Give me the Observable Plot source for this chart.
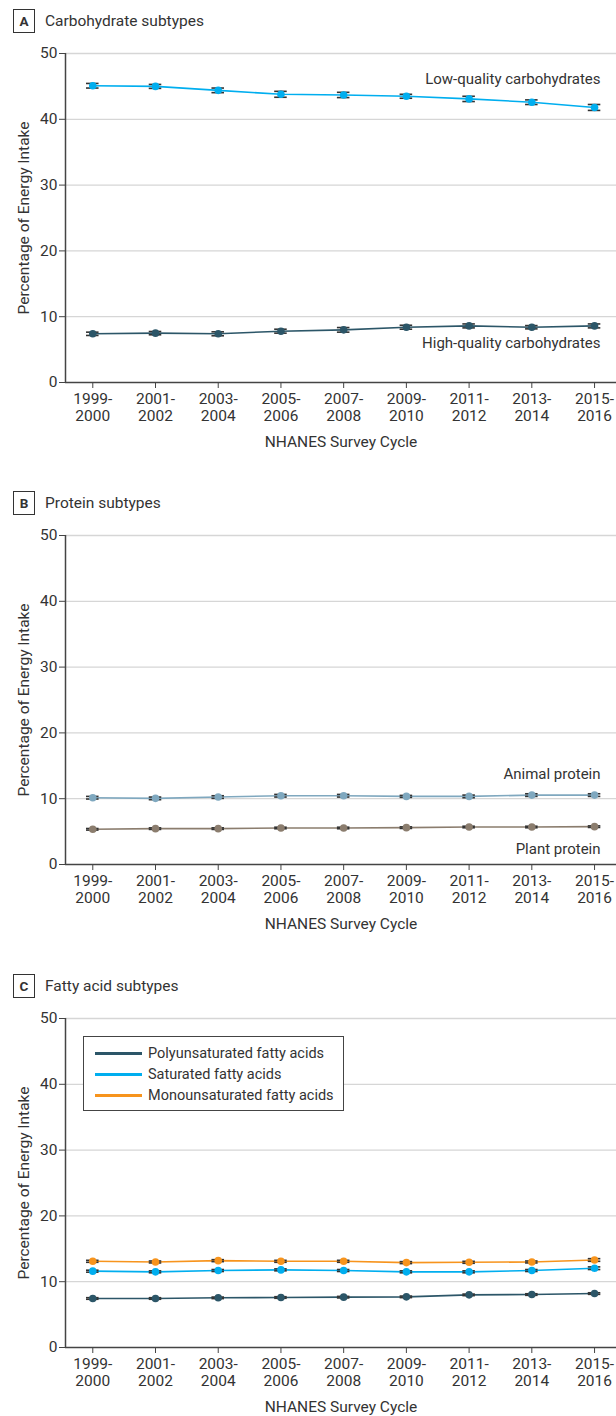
<!DOCTYPE html>
<html><head><meta charset="utf-8">
<script src="https://cdn.jsdelivr.net/npm/d3@7"></script>
<script src="https://cdn.jsdelivr.net/npm/@observablehq/plot@0.6"></script>
<style>
body{margin:0;background:#fff;font-family:Roboto,"Noto Sans",sans-serif;color:#333;}
.panel{position:absolute;left:0;width:616px;height:460px;}
.title{position:absolute;left:13px;top:9px;height:24px;display:flex;align-items:center;font-size:15.5px;color:#333;}
.badge{box-sizing:border-box;width:22px;height:24px;border:1.5px solid #333;display:flex;align-items:center;justify-content:center;font-weight:bold;font-size:13.5px;margin-right:10px;}
.chart{position:absolute;left:0;top:40px;}
.legend{position:absolute;box-sizing:border-box;border:1px solid #444;background:#fff;padding:6px 0 0 11px;font-size:14.5px;color:#333;}
.legend .row{display:flex;align-items:center;height:21px;}
.legend .sw{width:47px;height:2.5px;margin-right:6px;}
</style></head>
<body>
<div id="root"></div>
<script>
const cycles = ["1999-2000","2001-2002","2003-2004","2005-2006","2007-2008","2009-2010","2011-2012","2013-2014","2015-2016"];
const yTicks = [0, 10, 20, 30, 40, 50];

// Panel A: carbohydrate subtypes (% energy)
const lowQualityCarb    = [45.1, 45.0, 44.4, 43.8, 43.7, 43.5, 43.1, 42.6, 41.8];
const lowQualityCarbCI  = [0.35, 0.3, 0.35, 0.45, 0.4, 0.3, 0.4, 0.35, 0.45];
const highQualityCarb   = [7.4, 7.5, 7.4, 7.8, 8.0, 8.4, 8.6, 8.4, 8.6];
const highQualityCarbCI = [0.25, 0.25, 0.3, 0.3, 0.35, 0.3, 0.3, 0.25, 0.3];

// Panel B: protein subtypes
const animalProtein   = [10.15, 10.05, 10.25, 10.45, 10.45, 10.35, 10.35, 10.55, 10.55];
const animalProteinCI = [0.2, 0.2, 0.2, 0.2, 0.2, 0.15, 0.2, 0.2, 0.2];
const plantProtein    = [5.35, 5.45, 5.45, 5.55, 5.55, 5.6, 5.7, 5.7, 5.75];
const plantProteinCI  = [0.12, 0.12, 0.12, 0.12, 0.12, 0.12, 0.12, 0.12, 0.12];

// Panel C: fatty acid subtypes
const polyFA   = [7.45, 7.45, 7.55, 7.6, 7.65, 7.7, 8.0, 8.05, 8.2];
const polyFACI = [0.12, 0.12, 0.12, 0.12, 0.12, 0.12, 0.12, 0.12, 0.12];
const satFA    = [11.6, 11.5, 11.7, 11.8, 11.7, 11.5, 11.5, 11.7, 12.05];
const satFACI  = [0.15, 0.15, 0.15, 0.15, 0.15, 0.15, 0.15, 0.15, 0.2];
const monoFA   = [13.1, 13.0, 13.2, 13.1, 13.1, 12.9, 12.95, 13.0, 13.3];
const monoFACI = [0.15, 0.15, 0.15, 0.15, 0.15, 0.15, 0.15, 0.15, 0.2];

const colors = {
  low: "#00aeef", high: "#2c5668", animal: "#7fa8bf", plant: "#8b7d6e",
  poly: "#2c5668", sat: "#00aeef", mono: "#f7941d"
};

function rows(values, ci, key) {
  return values.map((v, i) => ({i, v, lo: v - ci[i], hi: v + ci[i], key}));
}

const panels = [
  {letter: "A", title: "Carbohydrate subtypes", top: 0,
   series: [rows(lowQualityCarb, lowQualityCarbCI, "low"), rows(highQualityCarb, highQualityCarbCI, "high")],
   labels: [{text: "Low-quality carbohydrates", y: 46.1}, {text: "High-quality carbohydrates", y: 5.9}]},
  {letter: "B", title: "Protein subtypes", top: 482,
   series: [rows(animalProtein, animalProteinCI, "animal"), rows(plantProtein, plantProteinCI, "plant")],
   labels: [{text: "Animal protein", y: 13.7}, {text: "Plant protein", y: 2.4}]},
  {letter: "C", title: "Fatty acid subtypes", top: 965,
   series: [rows(polyFA, polyFACI, "poly"), rows(satFA, satFACI, "sat"), rows(monoFA, monoFACI, "mono")],
   labels: [],
   legend: [["Polyunsaturated fatty acids", "poly"], ["Saturated fatty acids", "sat"], ["Monounsaturated fatty acids", "mono"]]}
];

const xDomain = [-0.435, 8.35];
const root = document.getElementById("root");

for (const p of panels) {
  const div = document.createElement("div");
  div.className = "panel";
  div.style.top = p.top + "px";
  div.innerHTML = `<div class="title"><div class="badge">${p.letter}</div><span>${p.title}</span></div>`;
  const marks = [
    Plot.gridY(yTicks.filter(d => d > 0), {stroke: "#d6d6d6", strokeOpacity: 1, strokeWidth: 1.3}),
    Plot.axisY(yTicks, {tickSize: 6, tickPadding: 2, fontSize: 15.5, stroke: "#444", fill: "#333",
      label: "Percentage of Energy Intake", labelAnchor: "center", labelOffset: 48, labelArrow: "none"}),
    Plot.axisX(d3.range(9), {tickSize: 6, tickPadding: 3, fontSize: 15.5, stroke: "#444", fill: "#333",
      tickFormat: i => cycles[i].replace("-", "-\n"), lineHeight: 1.12,
      label: "NHANES Survey Cycle", labelAnchor: "center", labelOffset: 64, labelArrow: "none"}),
    Plot.ruleY([0], {stroke: "#444", strokeWidth: 1.5}),
    Plot.ruleX([xDomain[0]], {y1: 0, y2: 50, stroke: "#444", strokeWidth: 1.5})
  ];
  for (const s of p.series) {
    const c = colors[s[0].key];
    marks.push(Plot.line(s, {x: "i", y: "v", stroke: c, strokeWidth: 1.6}));
    marks.push(Plot.ruleX(s, {x: "i", y1: "lo", y2: "hi", stroke: "#333", strokeWidth: 1.3}));
    marks.push(Plot.ruleY(s, {y: "hi", x1: d => d.i - 0.1, x2: d => d.i + 0.1, stroke: "#333", strokeWidth: 1.6}));
    marks.push(Plot.ruleY(s, {y: "lo", x1: d => d.i - 0.1, x2: d => d.i + 0.1, stroke: "#333", strokeWidth: 1.6}));
    marks.push(Plot.dot(s, {x: "i", y: "v", fill: c, r: 3.8}));
  }
  if (p.labels.length) {
    marks.push(Plot.text(p.labels, {x: 8, y: "y", text: "text", textAnchor: "end", dx: 6, fontSize: 15, fill: "#333"}));
  }
  const chart = Plot.plot({
    width: 616, height: 411,
    marginTop: 13, marginBottom: 69, marginLeft: 65, marginRight: 0,
    style: {fontFamily: "Roboto, 'Noto Sans', sans-serif", fontSize: "15px", color: "#333", background: "#fff"},
    x: {type: "linear", domain: xDomain},
    y: {domain: [0, 50]},
    marks
  });
  chart.classList.add("chart");
  div.appendChild(chart);
  if (p.legend) {
    const lg = document.createElement("div");
    lg.className = "legend";
    lg.style.left = "83px"; lg.style.top = "71px"; lg.style.width = "261px"; lg.style.height = "75px";
    lg.innerHTML = p.legend.map(([t, k]) => `<div class="row"><div class="sw" style="background:${colors[k]}"></div><span>${t}</span></div>`).join("");
    div.appendChild(lg);
  }
  root.appendChild(div);
}
</script>
</body></html>
